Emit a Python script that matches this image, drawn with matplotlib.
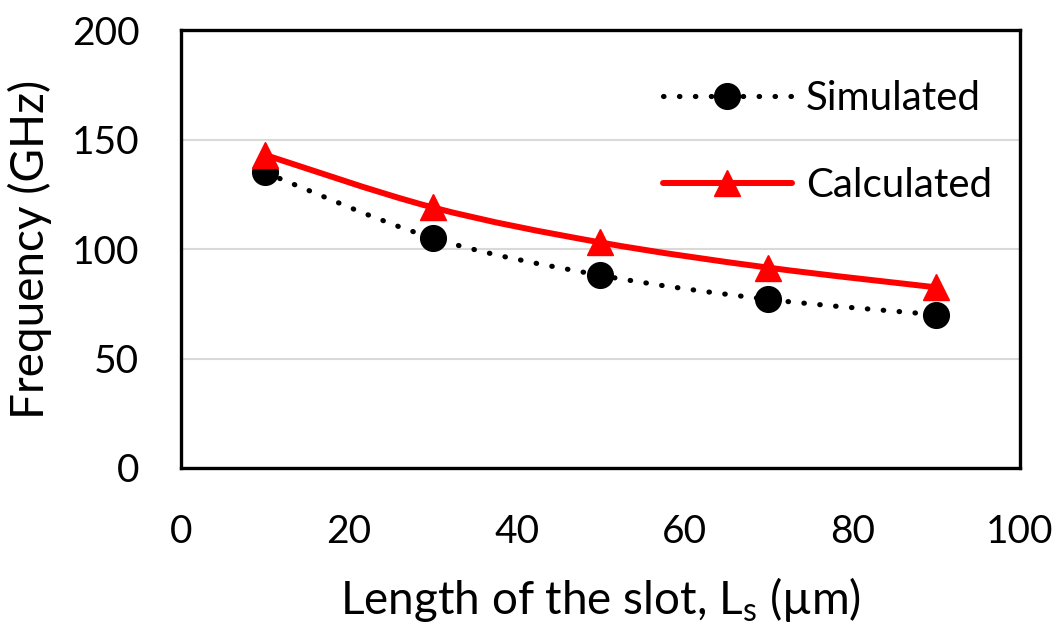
"""Resonance frequency vs slot length: simulated vs calculated."""

import matplotlib
matplotlib.use("Agg")
import matplotlib.pyplot as plt
from matplotlib.path import Path
from matplotlib.patches import PathPatch
from matplotlib.lines import Line2D

# ---------------------------------------------------------------------------
# Data
# ---------------------------------------------------------------------------
slot_length = [10, 30, 50, 70, 90]
freq_simulated = [135, 105, 88, 77, 70]
freq_calculated = [143, 119, 103, 91.5, 82.5]

X_TICKS = [0, 20, 40, 60, 80, 100]
Y_TICKS = [0, 50, 100, 150, 200]

FS_TICK = 28
FS_LEGEND = 29
FS_LABEL = 33
plt.rcParams["font.family"] = ["Lato", "DejaVu Sans"]
plt.rcParams["mathtext.fontset"] = "custom"
plt.rcParams["mathtext.rm"] = "Lato"


def smooth_path(xs, ys):
    """Catmull-Rom style Bezier path through the points (Excel 'smoothed line')."""
    verts = [(xs[0], ys[0])]
    codes = [Path.MOVETO]
    n = len(xs)
    for i in range(n - 1):
        x0, y0 = (xs[i - 1], ys[i - 1]) if i > 0 else (xs[i], ys[i])
        x1, y1 = xs[i], ys[i]
        x2, y2 = xs[i + 1], ys[i + 1]
        x3, y3 = (xs[i + 2], ys[i + 2]) if i + 2 < n else (x2, y2)
        c1 = (x1 + (x2 - x0) / 6, y1 + (y2 - y0) / 6)
        c2 = (x2 - (x3 - x1) / 6, y2 - (y3 - y1) / 6)
        verts += [c1, c2, (x2, y2)]
        codes += [Path.CURVE4] * 3
    return Path(verts, codes)


fig = plt.figure(figsize=(10.56, 6.26), dpi=100)
ax = fig.add_axes([0.1714, 0.2524, 0.7945, 0.6996])

MS = 18.5
DOTS = (0, (0.1, 3.0))
sim_style = dict(color="black", lw=3.7, linestyle=DOTS, dash_capstyle="round")
calc_style = dict(color="red", lw=4.3, solid_capstyle="round")

ax.add_patch(PathPatch(smooth_path(slot_length, freq_simulated),
                       fill=False, edgecolor="black", lw=3.7,
                       linestyle=DOTS, capstyle="round", zorder=3))
ax.add_patch(PathPatch(smooth_path(slot_length, freq_calculated),
                       fill=False, edgecolor="red", lw=4.3, zorder=3))
ax.plot(slot_length, freq_simulated, "o", color="black", ms=MS, zorder=4)
ax.plot(slot_length, freq_calculated, "^", color="red", ms=MS, zorder=5)

ax.set_xlim(0, 100)
ax.set_ylim(0, 200)
ax.set_xticks(X_TICKS)
ax.set_yticks(Y_TICKS)
ax.tick_params(length=0, labelsize=FS_TICK)
ax.tick_params(axis="y", pad=30)
ax.tick_params(axis="x", pad=33)
ax.grid(axis="y", color="#d9d9d9", lw=1.5)
ax.set_axisbelow(True)
for s in ax.spines.values():
    s.set_linewidth(2.4)
    s.set_color("black")

ax.set_xlabel(r"Length of the slot, L$_\mathregular{s}$ (µm)", fontsize=FS_LABEL,
              labelpad=18)
ax.set_ylabel("Frequency (GHz)", fontsize=FS_LABEL, labelpad=14)

handles = [
    Line2D([], [], marker="o", ms=MS, **sim_style),
    Line2D([], [], marker="^", ms=MS, **calc_style),
]
ax.legend(handles, ["Simulated", "Calculated"], loc="upper right",
          bbox_to_anchor=(1.0, 0.95), frameon=False, fontsize=FS_LEGEND,
          handlelength=3.2, labelspacing=1.25, handletextpad=0.35,
          borderaxespad=0.3)

fig.savefig("out.png", dpi=100)
